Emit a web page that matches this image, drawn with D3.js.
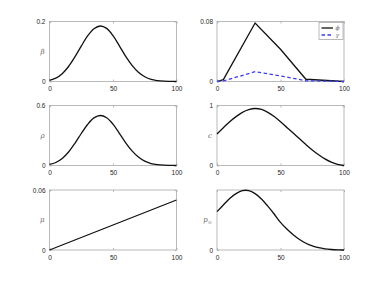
<!DOCTYPE html>
<html>
<head>
<meta charset="utf-8">
<script src="https://cdn.jsdelivr.net/npm/d3@7"></script>
<style>
  body { margin: 0; background: #fff; }
  svg { display: block; font-family: "Liberation Sans", Arial, sans-serif; }
</style>
</head>
<body>
<div id="chart"></div>
<script>
// sample positions along the x axis
const xs = [0, 5, 10, 15, 20, 25, 30, 35, 40, 45, 50, 55, 60, 65, 70, 75, 80, 85, 90, 95, 100];

const beta = [0.004, 0.011, 0.026, 0.05, 0.082, 0.118, 0.152, 0.176, 0.185, 0.177, 0.153, 0.119, 0.084, 0.054, 0.031, 0.016, 0.007, 0.003, 0.001, 0.0003, 0];
const rho = [0.011, 0.03, 0.07, 0.135, 0.222, 0.32, 0.41, 0.476, 0.5, 0.478, 0.413, 0.322, 0.227, 0.146, 0.084, 0.043, 0.019, 0.008, 0.003, 0.001, 0];
const cval = [0.525, 0.63, 0.73, 0.815, 0.885, 0.93, 0.95, 0.935, 0.885, 0.815, 0.73, 0.635, 0.54, 0.445, 0.35, 0.26, 0.18, 0.11, 0.055, 0.018, 0];
const mu = [0, 0.0025, 0.005, 0.0075, 0.01, 0.0125, 0.015, 0.0175, 0.02, 0.0225, 0.025, 0.0275, 0.03, 0.0325, 0.035, 0.0375, 0.04, 0.0425, 0.045, 0.0475, 0.05];
const pinf = [0.64, 0.75, 0.86, 0.94, 0.99, 0.99, 0.94, 0.85, 0.73, 0.6, 0.46, 0.35, 0.255, 0.175, 0.112, 0.068, 0.038, 0.019, 0.008, 0.002, 0];

// phi / gamma are piecewise linear
const xsKnots = [0, 5, 30, 50, 70, 100];
const phi = [0, 0.0025, 0.078, 0.043, 0.003, 0];
const gamma = [0, 0.0008, 0.013, 0.0075, 0.001, 0];

const xTicks = [0, 50, 100];

const W = 381, H = 282;
const svg = d3.select("#chart").append("svg").attr("width", W).attr("height", H);

const colX = [49.5, 217];
const rowY = [21.5, 105.5, 190];
const pw = 127, ph = 60;

const panels = [
  { col: 0, row: 0, label: "β", ymax: 0.2, yTicks: [0, 0.2], tickFmt: ["0", "0.2"], series: [{ x: xs, y: beta, curve: d3.curveCatmullRom }] },
  { col: 1, row: 0, label: null, ymax: 0.08, yTicks: [0, 0.08], tickFmt: ["0", "0.08"], legend: true,
    series: [{ x: xsKnots, y: phi, curve: d3.curveLinear, name: "ϕ" },
             { x: xsKnots, y: gamma, curve: d3.curveLinear, name: "γ", dashed: true, color: "#3b3bf5" }] },
  { col: 0, row: 1, label: "ρ", ymax: 0.6, yTicks: [0, 0.6], tickFmt: ["0", "0.6"], series: [{ x: xs, y: rho, curve: d3.curveCatmullRom }] },
  { col: 1, row: 1, label: "c", ymax: 1, yTicks: [0, 1], tickFmt: ["0", "1"], series: [{ x: xs, y: cval, curve: d3.curveCatmullRom }] },
  { col: 0, row: 2, label: "μ", ymax: 0.06, yTicks: [0, 0.06], tickFmt: ["0", "0.06"], series: [{ x: xs, y: mu, curve: d3.curveLinear }] },
  { col: 1, row: 2, label: "p∞", ymax: 1, yTicks: [0], tickFmt: ["0"], series: [{ x: xs, y: pinf, curve: d3.curveCatmullRom }] }
];

const boxColor = "#a8a8a8";

panels.forEach(function(p) {
  const g = svg.append("g").attr("transform", "translate(" + colX[p.col] + "," + rowY[p.row] + ")");
  const x = d3.scaleLinear().domain([0, 100]).range([0, pw]);
  const y = d3.scaleLinear().domain([0, p.ymax]).range([ph, 0]);

  // box
  g.append("rect").attr("width", pw).attr("height", ph)
    .attr("fill", "none").attr("stroke", boxColor).attr("stroke-width", 0.8);

  // x ticks (inside, bottom and top)
  g.append("g").attr("transform", "translate(0," + ph + ")")
    .call(d3.axisBottom(x).tickValues(xTicks).tickSizeInner(-2).tickSizeOuter(0).tickPadding(5));
  g.append("g").call(d3.axisTop(x).tickValues(xTicks).tickSizeInner(-2).tickSizeOuter(0).tickFormat(""));
  // y ticks (inside, left and right)
  g.append("g")
    .call(d3.axisLeft(y).tickValues(p.yTicks).tickSizeInner(-2).tickSizeOuter(0).tickPadding(4)
      .tickFormat(function(d, i) { return p.tickFmt[i]; }));
  g.append("g").attr("transform", "translate(" + pw + ",0)")
    .call(d3.axisRight(y).tickValues(p.yTicks).tickSizeInner(-2).tickSizeOuter(0).tickFormat(""));

  g.selectAll(".domain").remove();
  g.selectAll(".tick line").attr("stroke", boxColor).attr("stroke-width", 0.8);
  g.selectAll(".tick text").attr("fill", "#262626").style("font-size", "6.5px");

  // y label
  if (p.label) {
    const lab = g.append("text")
      .attr("x", -5).attr("y", ph / 2 + 2)
      .attr("text-anchor", "end")
      .attr("fill", "#666").style("font-size", "7px").style("font-style", "italic")
      .style("font-family", "'DejaVu Serif', serif");
    if (p.label === "p∞") {
      lab.append("tspan").text("p");
      lab.append("tspan").attr("dy", 1.5).style("font-size", "5px").style("font-style", "normal").text("∞");
    } else {
      lab.text(p.label);
    }
  }

  // curves
  p.series.forEach(function(s) {
    const line = d3.line()
      .curve(s.curve)
      .x(function(d, i) { return x(s.x[i]); })
      .y(function(d) { return y(d); });
    g.append("path")
      .attr("d", line(s.y))
      .attr("fill", "none")
      .attr("stroke", s.color || "#111")
      .attr("stroke-width", 1.3)
      .attr("stroke-dasharray", s.dashed ? "3.5,2.5" : null);
  });

  // legend
  if (p.legend) {
    const lg = g.append("g").attr("transform", "translate(" + (pw - 25) + ",1)");
    lg.append("rect").attr("width", 24).attr("height", 17)
      .attr("fill", "#fff").attr("stroke", boxColor).attr("stroke-width", 0.8);
    p.series.forEach(function(s, i) {
      const yy = 5.5 + i * 7;
      lg.append("line").attr("x1", 2.5).attr("x2", 14).attr("y1", yy).attr("y2", yy)
        .attr("stroke", s.color || "#111").attr("stroke-width", 1.3)
        .attr("stroke-dasharray", s.dashed ? "3.5,2.5" : null);
      lg.append("text").attr("x", 16.5).attr("y", yy + 2)
        .attr("fill", "#666").style("font-size", "6px").style("font-style", "italic")
        .style("font-family", "'DejaVu Serif', serif")
        .text(s.name);
    });
  }
});
</script>
</body>
</html>
